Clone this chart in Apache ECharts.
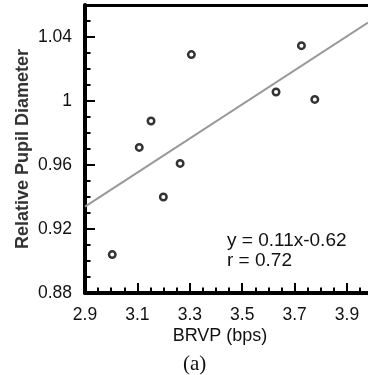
<!DOCTYPE html>
<html>
<head>
<meta charset="utf-8">
<script src="https://cdn.jsdelivr.net/npm/echarts@6/dist/echarts.min.js"></script>
<style>
html, body { margin: 0; padding: 0; background: #fff; }
#main { width: 368px; height: 375px; }
</style>
</head>
<body>
<div id="main"></div>
<script>
// measured points
var brvp = [3.004, 3.107, 3.152, 3.199, 3.263, 3.306, 3.629, 3.726, 3.777];
var pupil = [0.904, 0.971, 0.9875, 0.940, 0.961, 1.029, 1.0056, 1.0346, 1.001];
// fitted line ends
var fitX = [2.9, 3.98];
var fitY = [0.934, 1.049];
// ticks
var xMajor = [2.9, 3.1, 3.3, 3.5, 3.7, 3.9];
var xMinor = [2.95, 3.0, 3.05, 3.15, 3.2, 3.25, 3.35, 3.4, 3.45, 3.55, 3.6, 3.65, 3.75, 3.8, 3.85, 3.95];
var yMajor = [0.88, 0.92, 0.96, 1, 1.04];
var yMinor = [0.89, 0.9, 0.91, 0.93, 0.94, 0.95, 0.97, 0.98, 0.99, 1.01, 1.02, 1.03, 1.05];

var points = [];
for (var i = 0; i < brvp.length; i++) {
	points.push([brvp[i], pupil[i]]);
}
var fitLine = [];
for (var j = 0; j < fitX.length; j++) {
	fitLine.push([fitX[j], fitY[j]]);
}

var xMin = 2.9, xMax = 3.98, yMin = 0.88, yMax = 1.06;
var txt = '#111';

var option = {
	animation: false,
	grid: { left: 85, right: 0, top: 5, bottom: 82 },
	title: [{
		text: 'y = 0.11x-0.62\nr = 0.72',
		left: 227,
		top: 231,
		padding: 0,
		textStyle: { fontFamily: 'Liberation Sans', fontSize: 19, fontWeight: 'normal', color: txt, lineHeight: 20 }
	}, {
		text: '(a)',
		left: 183,
		top: 354,
		padding: 0,
		textStyle: { fontFamily: 'Liberation Serif', fontSize: 21, fontWeight: 'normal', color: txt }
	}],
	xAxis: [{
		type: 'value',
		min: xMin,
		max: xMax,
		name: 'BRVP (bps)',
		nameLocation: 'middle',
		nameGap: 34,
		nameMoveOverlap: false,
		nameTextStyle: { fontFamily: 'Liberation Sans', fontSize: 18, color: txt, padding: [0, 13, 0, 0] },
		axisLine: { show: true, lineStyle: { color: '#000', width: 4 } },
		axisTick: { show: true, inside: true, length: 10, customValues: xMajor, lineStyle: { color: '#000', width: 2 } },
		axisLabel: { customValues: xMajor, margin: 13, fontFamily: 'Liberation Sans', fontSize: 17.5, color: txt },
		splitLine: { show: false }
	}, {
		type: 'value',
		min: xMin,
		max: xMax,
		position: 'bottom',
		axisLine: { show: false },
		axisTick: { show: true, inside: true, length: 5.5, customValues: xMinor, lineStyle: { color: '#000', width: 2 } },
		axisLabel: { show: false },
		splitLine: { show: false }
	}, {
		type: 'value',
		min: xMin,
		max: xMax,
		position: 'top',
		axisLine: { show: true, lineStyle: { color: '#000', width: 3 } },
		axisTick: { show: false },
		axisLabel: { show: false },
		splitLine: { show: false }
	}],
	yAxis: [{
		type: 'value',
		min: yMin,
		max: yMax,
		name: 'Relative Pupil Diameter',
		nameLocation: 'middle',
		nameGap: 53,
		nameMoveOverlap: false,
		nameTextStyle: { fontFamily: 'Liberation Sans', fontSize: 18, fontWeight: 'bold', color: '#333' },
		axisLine: { show: true, lineStyle: { color: '#000', width: 4 } },
		axisTick: { show: true, inside: true, length: 10, customValues: yMajor, lineStyle: { color: '#000', width: 2 } },
		axisLabel: { customValues: yMajor, margin: 13, fontFamily: 'Liberation Sans', fontSize: 17.5, color: txt },
		splitLine: { show: false }
	}, {
		type: 'value',
		min: yMin,
		max: yMax,
		position: 'left',
		axisLine: { show: false },
		axisTick: { show: true, inside: true, length: 5.5, customValues: yMinor, lineStyle: { color: '#000', width: 2 } },
		axisLabel: { show: false },
		splitLine: { show: false }
	}],
	series: [{
		type: 'line',
		data: fitLine,
		symbol: 'none',
		lineStyle: { color: '#999', width: 2 },
		z: 2
	}, {
		type: 'scatter',
		data: points,
		symbol: 'circle',
		symbolSize: 6.5,
		itemStyle: { color: '#fff', borderColor: '#000', borderWidth: 2.5 },
		z: 3
	}]
};

var myChart = echarts.init(document.getElementById('main'));
myChart.setOption(option);
</script>
</body>
</html>
